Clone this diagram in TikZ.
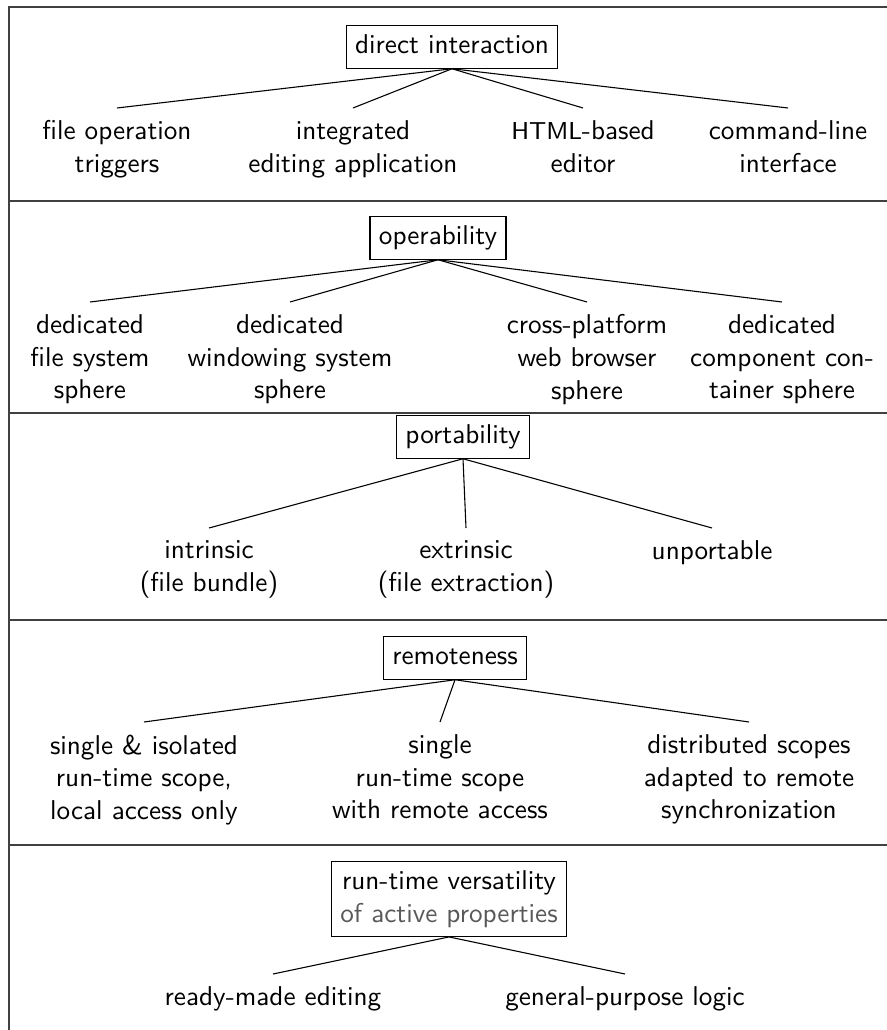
\documentclass[tikz,border=0pt]{standalone}
\usepackage{tikz}
\renewcommand{\familydefault}{\sfdefault}
\definecolor{subtext}{gray}{0.35}

\begin{document}
\begin{tikzpicture}[x=0.3676pt, y=-0.3676pt,
    head/.style={draw, inner sep=3.3pt, text height=7pt, text depth=2pt},
    headtwo/.style={draw, inner sep=3.3pt, align=center},
    leaf/.style={align=center, inner sep=4.5pt, anchor=north},
    sep/.style={semithick, black!75}]
  \useasboundingbox (0,0) rectangle (887,1030);
  % frame and section rules
  \draw[sep] (9,1030) -- (9,7) -- (887,7);
  \foreach \y in {201,413,620,845}
    \draw[sep] (9,\y) -- (887,\y);

  % direct interaction
  \node[head] (di) at (452,47) {direct interaction};
  \node[leaf] (di1) at (117,108) {file operation\\triggers};
  \node[leaf] (di2) at (353,108) {integrated\\editing application};
  \node[leaf] (di3) at (583,108) {{\small HTML}-based\\editor};
  \node[leaf] (di4) at (788,108) {command-line\\interface};
  \foreach \n in {di1,di2,di3,di4}
    \draw (di.south) -- (\n.north);

  % operability
  \node[head] (op) at (438,238) {operability};
  \node[leaf] (op1) at (90,302) {dedicated\\file system\\sphere};
  \node[leaf] (op2) at (290,302) {dedicated\\windowing system\\sphere};
  \node[leaf] (op3) at (587,302) {cross-platform\\web browser\\sphere};
  \node[leaf] (op4) at (782,302) {dedicated\\component con-\\tainer sphere};
  \foreach \n in {op1,op2,op3,op4}
    \draw (op.south) -- (\n.north);

  % portability
  \node[head] (po) at (463,437) {portability};
  \node[leaf] (po1) at (209,528) {intrinsic\\(file bundle)};
  \node[leaf] (po2) at (466,528) {extrinsic\\(file extraction)};
  \node[leaf] (po3) at (712,528) {unportable};
  \foreach \n in {po1,po2,po3}
    \draw (po.south) -- (\n.north);

  % remoteness
  \node[head] (re) at (455,658) {remoteness};
  \node[leaf] (re1) at (144,722) {single \& isolated\\run-time scope,\\local access only};
  \node[leaf] (re2) at (440,722) {single\\run-time scope\\with remote access};
  \node[leaf] (re3) at (749,722) {distributed scopes\\adapted to remote\\synchronization};
  \foreach \n in {re1,re2,re3}
    \draw (re.south) -- (\n.north);

  % run-time versatility
  \node[headtwo] (rv) at (449,899) {run-time versatility\\\textcolor{subtext}{of active properties}};
  \node[leaf] (rv1) at (273,974) {ready-made editing};
  \node[leaf] (rv2) at (625,974) {general-purpose logic};
  \foreach \n in {rv1,rv2}
    \draw (rv.south) -- (\n.north);
\end{tikzpicture}
\end{document}
